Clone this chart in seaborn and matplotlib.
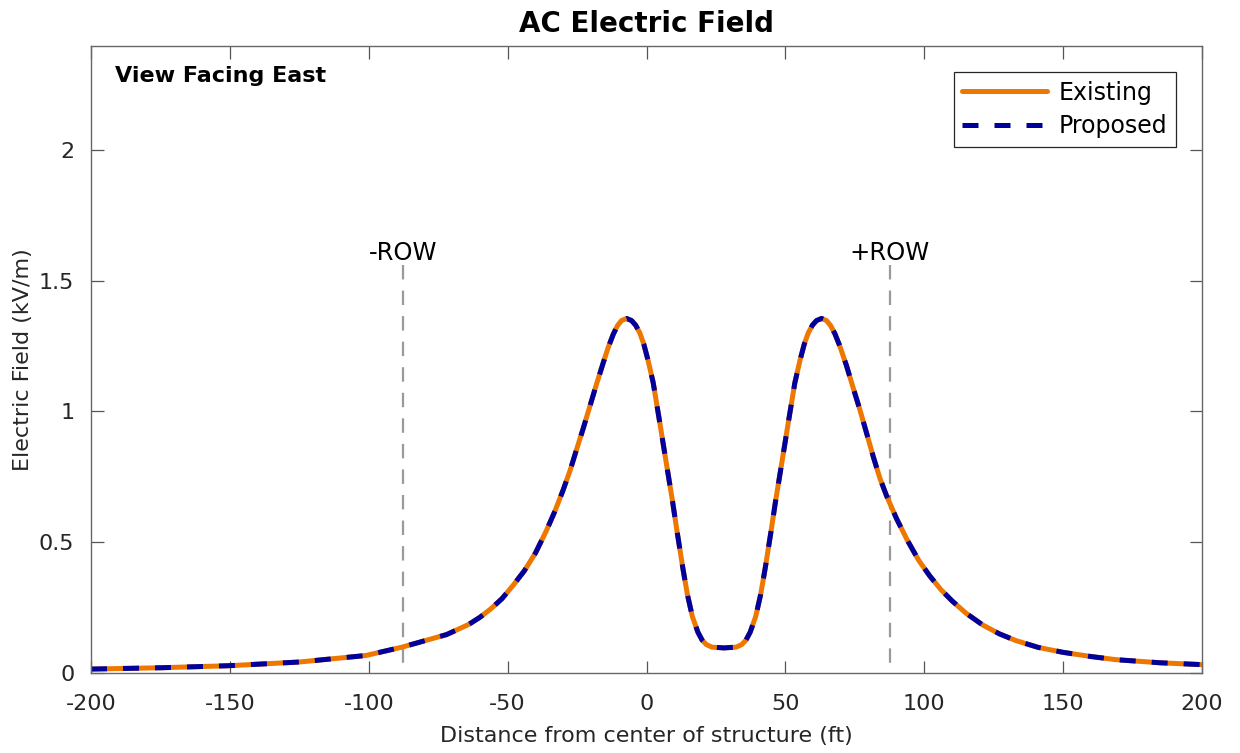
import numpy as np
import pandas as pd
import seaborn as sns
import matplotlib.pyplot as plt

# distance from structure centre (ft) and field (kV/m)
dist = [-200, -175, -150, -125, -101, -88, -72, -64, -60, -56, -52, -48, -44, -40, -36,
        -33, -30, -27.5, -25.2, -22.8, -20.4, -18, -15.6, -13.8, -12, -10.5, -9, -7.2,
        -5.4, -3.9, -2.4, -1, 0.5, 2.4, 4.8, 7, 9.3, 11, 13, 14.7, 16.5, 18.5, 20, 21.5,
        23.5, 27.9, 32.3, 34.3, 35.8, 37.3, 39.3, 41.1, 42.8, 44.8, 46.5, 48.8, 51, 53.4,
        55.3, 56.8, 58.2, 59.7, 61.2, 63, 64.8, 66.3, 67.8, 69.6, 72, 74.4, 76.8, 79.2,
        81.6, 84, 86.5, 90, 94, 98, 102, 106, 110, 115, 121, 127, 133, 141, 150, 160, 169,
        185, 200]
field = [0.014, 0.019, 0.027, 0.041, 0.066, 0.098, 0.146, 0.185, 0.212, 0.245, 0.284,
         0.335, 0.39, 0.458, 0.545, 0.618, 0.70, 0.775, 0.854, 0.935, 1.02, 1.105, 1.186,
         1.245, 1.295, 1.328, 1.348, 1.356, 1.348, 1.33, 1.30, 1.258, 1.198, 1.11, 0.955,
         0.81, 0.66, 0.54, 0.405, 0.30, 0.215, 0.155, 0.125, 0.108, 0.098, 0.095, 0.098,
         0.108, 0.125, 0.155, 0.215, 0.30, 0.405, 0.54, 0.66, 0.81, 0.955, 1.11, 1.198,
         1.258, 1.30, 1.33, 1.348, 1.356, 1.348, 1.328, 1.298, 1.25, 1.175, 1.09, 1.007,
         0.918, 0.828, 0.745, 0.675, 0.59, 0.505, 0.43, 0.37, 0.318, 0.275, 0.228, 0.183,
         0.149, 0.123, 0.097, 0.078, 0.062, 0.05, 0.038, 0.031]
cases = ['Existing', 'Proposed']
row_edges = [-87.5, 87.5]
row_labels = ['-ROW', '+ROW']

# existing and proposed results are identical
df = pd.concat([pd.DataFrame({'dist': dist, 'field': field, 'case': c}) for c in cases],
               ignore_index=True)

sns.set_style('white')
plt.rcParams['font.family'] = ['DejaVu Sans']
plt.rcParams['axes.unicode_minus'] = False

fig = plt.figure(figsize=(12.4, 7.53), dpi=100)
ax = fig.add_axes([0.0734, 0.1066, 0.896, 0.8327])

sns.lineplot(data=df, x='dist', y='field', hue='case', style='case',
             palette={'Existing': '#EE7700', 'Proposed': '#00009C'},
             dashes={'Existing': '', 'Proposed': (3.2, 3.2)},
             linewidth=3.6, legend=False, ax=ax)
handles = list(ax.lines[:2])

for xr, lab in zip(row_edges, row_labels):
    ax.plot([xr, xr], [1.56, 0], color='#9a9a9a', lw=1.6, dashes=(6.5, 5), zorder=1)
    ax.text(xr, 1.578, lab, ha='center', va='baseline', fontsize=17.5, color='black')

ax.set_xlim(-200, 200)
ax.set_ylim(0, 2.4)
ax.set_xticks(np.arange(-200, 201, 50))
ax.set_yticks([0, 0.5, 1, 1.5, 2])
ax.set_yticklabels(['0', '0.5', '1', '1.5', '2'])
ax.tick_params(direction='in', top=True, right=True, bottom=True, left=True,
               length=9, width=0.9, color='#555555', labelcolor='#262626', labelsize=16)
ax.tick_params(axis='x', pad=15)
ax.tick_params(axis='y', pad=12)
for s in ax.spines.values():
    s.set_color('#666666')
    s.set_linewidth(1.0)

ax.set_xlabel('Distance from center of structure (ft)', fontsize=16, color='#262626', labelpad=9)
ax.set_ylabel('Electric Field (kV/m)', fontsize=16, color='#262626', labelpad=4)
ax.set_title('AC Electric Field', fontsize=20, fontweight='bold', pad=10, color='black')

ax.text(0.0216, 0.951, 'View Facing East', transform=ax.transAxes, fontsize=16,
        fontweight='bold', va='center', ha='left', color='black')

leg = ax.legend(handles, cases, loc='upper right', bbox_to_anchor=(0.9766, 0.958),
                borderaxespad=0, fontsize=17, frameon=True, fancybox=False,
                handlelength=3.6, handletextpad=0.5, labelspacing=0.42, borderpad=0.36)
leg.get_frame().set_edgecolor('#262626')
leg.get_frame().set_linewidth(0.9)
leg.get_frame().set_alpha(1)
for t in leg.get_texts():
    t.set_color('black')

fig.savefig('out.png', dpi=100)
